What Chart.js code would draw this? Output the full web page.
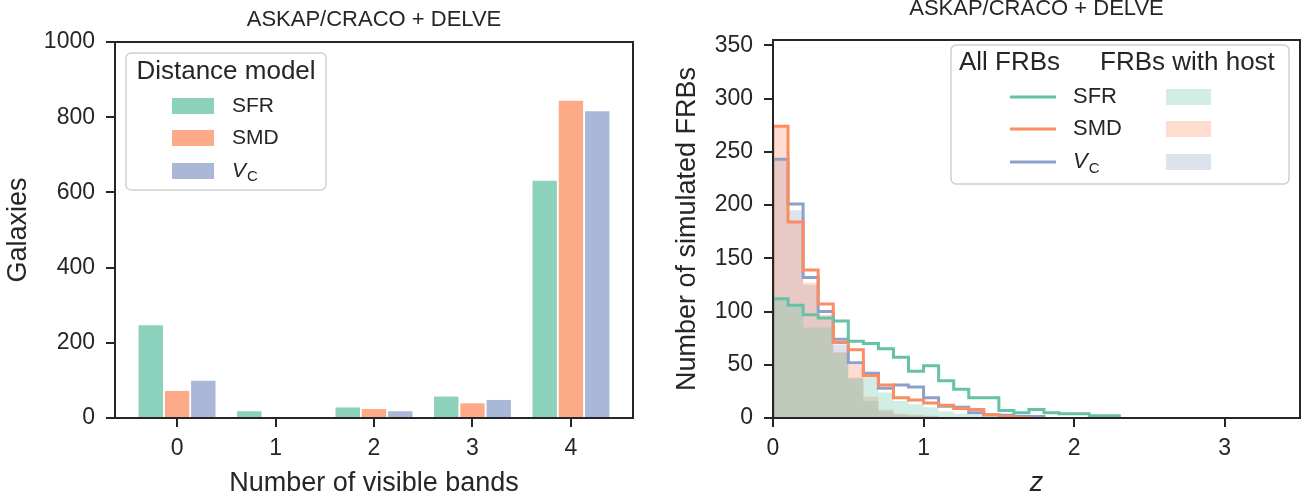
<!DOCTYPE html>
<html>
<head>
<meta charset="utf-8">
<script src="https://cdn.jsdelivr.net/npm/chart.js@4.4.1/dist/chart.umd.min.js"></script>
<style>
  html, body { margin: 0; padding: 0; background: #fff; }
  #wrap { position: relative; width: 1306px; height: 500px; }
  #leftBox { position: absolute; left: 0; top: 0; width: 650px; height: 500px; }
  #rightBox { position: absolute; left: 650px; top: 0; width: 656px; height: 500px; }
</style>
</head>
<body>
<div id="wrap">
  <div id="leftBox"><canvas id="bandsChart"></canvas></div>
  <div id="rightBox"><canvas id="redshiftChart"></canvas></div>
</div>
<script>
// ---- data ----
const bandTicks = [0, 1, 2, 3, 4];
const galaxyTicks = [0, 200, 400, 600, 800, 1000];
const modelNames = ['SFR', 'SMD', 'V_C'];
const galaxiesSFR = [247, 18, 28, 57, 631];
const galaxiesSMD = [72, 0, 24, 39, 844];
const galaxiesVC = [99, 0, 18, 48, 816];

// redshift histograms, bins of width 0.1 starting at z = 0
const binWidth = 0.1;
const allSFR = [112, 106, 97, 94, 91, 72, 70, 65, 57, 44, 49, 35, 27, 19, 19, 7, 5, 8, 5, 4, 4, 2, 2];
const allSMD = [274, 184, 139, 107, 71, 64, 40, 31, 19, 17, 14, 12, 9, 8, 3, 1.5, 0.5];
const allVC = [243, 201, 132, 100, 74, 52, 42, 28, 31, 29, 19, 11, 10, 5, 3, 2.5, 1.5, 1.5];
const hostSFR = [112, 105, 85, 85, 61, 37, 42, 24, 16, 13, 10, 6, 4, 3, 2, 1, 1, 1, 0.5, 0.5];
const hostSMD = [274, 184, 127, 97, 62, 50, 20, 8, 4, 3, 2, 1, 1, 0.5];
const hostVC = [243, 195, 125, 95, 69, 38, 16, 6, 3, 2, 1.5, 1, 0.5];
const zTicks = [0, 1, 2, 3];
const frbTicks = [0, 50, 100, 150, 200, 250, 300, 350];

const titleText = 'ASKAP/CRACO + DELVE';
const green = [102, 194, 165];
const orange = [252, 141, 98];
const blue = [141, 160, 203];
const ink = '#262626';
const family = '"Liberation Sans", Arial, sans-serif';
const tickLen = 9;

function rgba(c, a) { return `rgba(${c[0]},${c[1]},${c[2]},${a})`; }

// outline of a step histogram, built from bin values
function stepPoints(vals) {
  const pts = [{ x: 0, y: 0 }];
  vals.forEach((v, i) => {
    pts.push({ x: i * binWidth, y: v });
    pts.push({ x: (i + 1) * binWidth, y: v });
  });
  pts.push({ x: vals.length * binWidth, y: 0 });
  return pts;
}

function roundRect(ctx, x, y, w, h, r) {
  ctx.beginPath();
  ctx.moveTo(x + r, y);
  ctx.arcTo(x + w, y, x + w, y + h, r);
  ctx.arcTo(x + w, y + h, x, y + h, r);
  ctx.arcTo(x, y + h, x, y, r);
  ctx.arcTo(x, y, x + w, y, r);
  ctx.closePath();
}

// label drawer, handles the V_C subscript
function drawLabel(ctx, text, x, y, size) {
  ctx.textAlign = 'left';
  ctx.textBaseline = 'middle';
  ctx.fillStyle = ink;
  if (text === 'V_C') {
    ctx.font = `italic ${size}px ${family}`;
    ctx.fillText('V', x, y);
    const w = ctx.measureText('V').width;
    ctx.font = `${Math.round(size * 0.7)}px ${family}`;
    ctx.fillText('C', x + w + 1, y + size * 0.3);
  } else {
    ctx.font = `${size}px ${family}`;
    ctx.fillText(text, x, y);
  }
}

function legendFrame(ctx, x, y, w, h) {
  roundRect(ctx, x, y, w, h, 5);
  ctx.fillStyle = 'rgba(255,255,255,0.8)';
  ctx.fill();
  ctx.lineWidth = 1.5;
  ctx.strokeStyle = '#d0d0d0';
  ctx.stroke();
}

// axes box, outward tick marks and panel title
const framePlugin = {
  id: 'frame',
  afterDraw(chart, args, opts) {
    const { ctx, chartArea: a } = chart;
    const xs = chart.scales.x, ys = chart.scales.y;
    ctx.save();
    ctx.strokeStyle = ink;
    ctx.lineWidth = 2;
    ctx.beginPath();
    xs.ticks.forEach(t => {
      const px = Math.round(xs.getPixelForValue(t.value));
      ctx.moveTo(px, a.bottom);
      ctx.lineTo(px, a.bottom + tickLen);
    });
    ys.ticks.forEach(t => {
      const py = Math.round(ys.getPixelForValue(t.value));
      ctx.moveTo(a.left, py);
      ctx.lineTo(a.left - tickLen, py);
    });
    ctx.stroke();
    ctx.strokeRect(a.left, a.top, a.right - a.left, a.bottom - a.top);
    ctx.fillStyle = ink;
    ctx.font = `22px ${family}`;
    ctx.textAlign = 'center';
    ctx.textBaseline = 'alphabetic';
    ctx.fillText(titleText, (a.left + a.right) / 2, a.top - opts.titleGap);
    ctx.restore();
  }
};

const bandsLegend = {
  id: 'bandsLegend',
  afterDatasetsDraw(chart) {
    const { ctx, chartArea: a } = chart;
    const bx = a.left + 11, by = a.top + 11;
    ctx.save();
    legendFrame(ctx, bx, by, 200, 137);
    ctx.fillStyle = ink;
    ctx.font = `26px ${family}`;
    ctx.textAlign = 'center';
    ctx.textBaseline = 'middle';
    ctx.fillText('Distance model', bx + 100, by + 19);
    const rows = [53, 85, 118];
    chart.data.datasets.forEach((ds, i) => {
      ctx.fillStyle = ds.backgroundColor;
      ctx.fillRect(bx + 46, by + rows[i] - 8, 42, 16);
      drawLabel(ctx, ds.label, bx + 106, by + rows[i], 21);
    });
    ctx.restore();
  }
};

const redshiftLegend = {
  id: 'redshiftLegend',
  afterDatasetsDraw(chart) {
    const { ctx, chartArea: a } = chart;
    const bx = a.left + 178, by = a.top + 5;
    ctx.save();
    legendFrame(ctx, bx, by, 338, 139);
    ctx.fillStyle = ink;
    ctx.font = `26px ${family}`;
    ctx.textAlign = 'left';
    ctx.textBaseline = 'middle';
    ctx.fillText('All FRBs', bx + 8, by + 18);
    ctx.fillText('FRBs with host', bx + 149, by + 18);
    const rows = [52, 84, 117];
    const lines = chart.data.datasets.filter(d => d.kind === 'all');
    const fills = chart.data.datasets.filter(d => d.kind === 'host');
    lines.forEach((ds, i) => {
      const y = by + rows[i];
      ctx.strokeStyle = ds.borderColor;
      ctx.lineWidth = 3;
      ctx.beginPath();
      ctx.moveTo(bx + 59, y);
      ctx.lineTo(bx + 105, y);
      ctx.stroke();
      drawLabel(ctx, ds.label, bx + 122, y, 22);
      ctx.fillStyle = fills[i].backgroundColor;
      ctx.fillRect(bx + 215, y - 8, 45, 16);
    });
    ctx.restore();
  }
};

Chart.defaults.font.family = family;
Chart.defaults.color = ink;

function tickSetter(values) {
  return scale => { scale.ticks = values.map(v => ({ value: v })); };
}

// tick marks are drawn by the frame plugin; this keeps room for them
const axisGrid = { display: true, drawOnChartArea: false, drawTicks: true, offset: false, tickLength: tickLen, tickColor: 'rgba(0,0,0,0)' };

new Chart(document.getElementById('bandsChart'), {
  type: 'bar',
  data: {
    datasets: [
      { label: modelNames[0], data: bandTicks.map((b, i) => ({ x: b, y: galaxiesSFR[i] })), backgroundColor: rgba(green, 0.75) },
      { label: modelNames[1], data: bandTicks.map((b, i) => ({ x: b, y: galaxiesSMD[i] })), backgroundColor: rgba(orange, 0.75) },
      { label: modelNames[2], data: bandTicks.map((b, i) => ({ x: b, y: galaxiesVC[i] })), backgroundColor: rgba(blue, 0.75) }
    ]
  },
  options: {
    responsive: true,
    maintainAspectRatio: false,
    animation: false,
    datasets: { bar: { categoryPercentage: 0.8, barPercentage: 0.93, borderWidth: 0 } },
    layout: { padding: { top: 42, right: 17, bottom: 0, left: 0 } },
    plugins: { legend: { display: false }, tooltip: { enabled: false }, frame: { titleGap: 16 } },
    scales: {
      x: {
        type: 'linear', min: -0.63, max: 4.63, offset: false,
        afterBuildTicks: tickSetter(bandTicks),
        afterFit: s => { s.height = 82; },
        grid: axisGrid, border: { display: false },
        ticks: { font: { size: 23 }, padding: 8, callback: v => String(v) },
        title: { display: true, text: 'Number of visible bands', font: { size: 27 }, padding: { top: 0, bottom: 0 } }
      },
      y: {
        min: 0, max: 1000,
        afterBuildTicks: tickSetter(galaxyTicks),
        afterFit: s => { s.width = 115; },
        grid: axisGrid, border: { display: false },
        ticks: { font: { size: 23 }, padding: 11, callback: v => String(v) },
        title: { display: true, text: 'Galaxies', font: { size: 27 }, padding: { top: 2, bottom: 0 } }
      }
    }
  },
  plugins: [framePlugin, bandsLegend]
});

const lineStyle = { fill: false, borderWidth: 3, pointRadius: 0, tension: 0, order: 0, kind: 'all' };
const fillStyle = { fill: 'origin', borderWidth: 0, pointRadius: 0, tension: 0, order: 1, kind: 'host' };

new Chart(document.getElementById('redshiftChart'), {
  type: 'line',
  data: {
    datasets: [
      { ...lineStyle, label: modelNames[0], data: stepPoints(allSFR), borderColor: rgba(green, 1) },
      { ...lineStyle, label: modelNames[1], data: stepPoints(allSMD), borderColor: rgba(orange, 1) },
      { ...lineStyle, label: modelNames[2], data: stepPoints(allVC), borderColor: rgba(blue, 1) },
      { ...fillStyle, label: modelNames[0], data: stepPoints(hostSFR), backgroundColor: rgba(green, 0.3), borderColor: 'rgba(0,0,0,0)' },
      { ...fillStyle, label: modelNames[1], data: stepPoints(hostSMD), backgroundColor: rgba(orange, 0.3), borderColor: 'rgba(0,0,0,0)' },
      { ...fillStyle, label: modelNames[2], data: stepPoints(hostVC), backgroundColor: rgba(blue, 0.3), borderColor: 'rgba(0,0,0,0)' }
    ]
  },
  options: {
    responsive: true,
    maintainAspectRatio: false,
    animation: false,
    layout: { padding: { top: 40, right: 6, bottom: 0, left: 0 } },
    plugins: { legend: { display: false }, tooltip: { enabled: false }, frame: { titleGap: 25 } },
    scales: {
      x: {
        type: 'linear', min: 0, max: 3.5,
        afterBuildTicks: tickSetter(zTicks),
        afterFit: s => { s.height = 82; },
        grid: axisGrid, border: { display: false },
        ticks: { font: { size: 23 }, padding: 8, callback: v => String(v) },
        title: { display: true, text: 'z', font: { size: 27, style: 'italic' }, padding: { top: 0, bottom: 0 } }
      },
      y: {
        min: 0, max: 355,
        afterBuildTicks: tickSetter(frbTicks),
        afterFit: s => { s.width = 123; },
        grid: axisGrid, border: { display: false },
        ticks: { font: { size: 23 }, padding: 11, callback: v => String(v) },
        title: { display: true, text: 'Number of simulated FRBs', font: { size: 27 }, padding: { top: 21, bottom: 0 } }
      }
    }
  },
  plugins: [framePlugin, redshiftLegend]
});
</script>
</body>
</html>
